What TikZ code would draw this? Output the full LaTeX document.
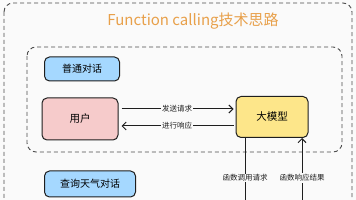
\documentclass[tikz,border=0pt]{standalone}
\usepackage{fontspec}
\setmainfont{Noto Sans CJK SC}
\usetikzlibrary{arrows.meta}
\definecolor{bgcol}{HTML}{FAFAFA}
\definecolor{titlecol}{HTML}{E8A04A}
\definecolor{bluecol}{HTML}{A5D8FF}
\definecolor{pinkcol}{HTML}{F6CBCB}
\definecolor{yellowcol}{HTML}{FDE68A}
\definecolor{inkcol}{HTML}{1E1E1E}

\begin{document}
\begin{tikzpicture}[
  x=1pt, y=-1pt,
  box/.style={draw=inkcol,line width=1pt,rounded corners=5pt,font=\fontsize{10.5}{12}\selectfont},
  tag/.style={box,fill=bluecol,minimum height=24pt,font=\fontsize{10}{12}\selectfont},
  frame/.style={draw=inkcol!80,dash pattern=on 4pt off 3pt,line width=0.9pt,rounded corners=9pt},
  edge label/.style={fill=bgcol,inner sep=1pt,font=\fontsize{7.5}{9}\selectfont,text=inkcol},
  barb/.style={-{Straight Barb[length=4pt,width=8pt]},line width=1pt,draw=inkcol}
]
  \fill[bgcol] (0,0) rectangle (356,200);
  \useasboundingbox (0,0) rectangle (356,200);
  \clip (0,0) rectangle (356,200);

  % outer and inner frames
  \draw[frame] (4,3) rectangle (352,225);
  \draw[frame] (27,47) rectangle (342,152);

  \node[text=titlecol,font=\fontsize{15}{18}\selectfont] (title) at (193,21) {Function calling技术思路};

  \node[tag,minimum width=75pt] (chat) at (82,69) {普通对话};
  \node[box,fill=pinkcol,minimum width=76pt,minimum height=42pt] (user) at (80,119) {用户};
  \node[box,fill=yellowcol,minimum width=72pt,minimum height=41pt] (llm) at (272,117) {大模型};
  \node[tag,minimum width=91pt,minimum height=26pt] (weather) at (90,184) {查询天气对话};

  \coordinate (callend) at (245,205);
  \coordinate (retstart) at (302,205);

  \draw[barb,shorten <=3pt,shorten >=2pt] ([yshift=10pt]user.east) -- node[edge label] {发送请求} ([yshift=10pt]user.east -| llm.west);
  \draw[barb,shorten <=2pt,shorten >=3pt] ([yshift=-9pt]llm.west) -- node[edge label] {进行响应} ([yshift=-9pt]llm.west -| user.east);

  % function calls below the model
  \draw[line width=1pt,draw=inkcol] ([xshift=-27pt]llm.south) -- (callend);
  \draw[barb] (retstart) -- ([xshift=30pt]llm.south);
  \node[edge label] (calllbl) at (245,178) {函数调用请求};
  \node[edge label] (retlbl) at (302,178) {函数响应结果};
\end{tikzpicture}
\end{document}
